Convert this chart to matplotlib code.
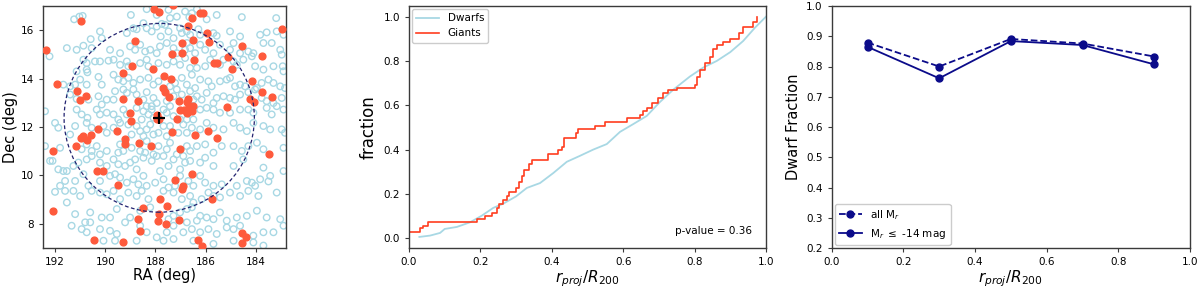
"""
    Virgo dwarfs vs giants: sky map, radial CDF and dwarf fraction
"""
import numpy as np
import matplotlib
matplotlib.use("Agg")
import matplotlib.pyplot as plt
from matplotlib.patches import Ellipse

DWARF_COLOR = "#a8d8e4"
GIANT_COLOR = "#fe5a3c"
LINE_RED = "#ff3d1f"
NAVY = "#0b0b8a"

### Data

# cluster centre and R200 circle (deg)
center_ra, center_dec = 187.85, 12.38
r200_ra, r200_dec = 3.79, 3.90

# dwarf positions (RA, Dec)
dwarf_pos = [
    (191.24, 16.45), (191.03, 16.56), (190.90, 16.59), (188.98, 16.63), (188.35, 16.87),
    (187.95, 16.63), (187.48, 16.84), (187.42, 16.50), (187.15, 16.56), (186.82, 16.77),
    (186.65, 16.54), (186.55, 16.70), (186.35, 16.87), (185.56, 16.63), (184.56, 16.54),
    (183.19, 16.50), (187.75, 16.26), (185.96, 16.45),
    (190.21, 15.95), (190.14, 15.67), (189.14, 15.88), (188.88, 16.08), (188.75, 16.04),
    (188.48, 16.29), (188.35, 16.08), (188.15, 15.95), (187.95, 16.15), (187.62, 16.22),
    (187.48, 15.95), (187.02, 16.08), (186.95, 15.88), (186.75, 15.95), (186.62, 15.81),
    (186.29, 16.04), (186.22, 15.81), (185.69, 15.88), (185.56, 15.77), (185.03, 15.95),
    (184.63, 15.74), (183.83, 15.81), (183.57, 15.91), (183.17, 15.95), (182.90, 15.81),
    (190.58, 15.63), (187.28, 15.67), (187.79, 15.74),
    (192.22, 14.92), (191.53, 15.26), (191.14, 15.19), (190.87, 15.36), (190.54, 15.26),
    (189.81, 15.19), (189.41, 15.05), (189.01, 15.33), (188.81, 15.19), (188.61, 15.40),
    (188.41, 15.12), (188.21, 15.19), (187.95, 15.05), (187.82, 15.33), (187.55, 15.47),
    (187.28, 15.26), (187.15, 15.05), (186.82, 15.19), (186.62, 15.26), (186.42, 15.05),
    (186.22, 15.40), (186.02, 15.19), (185.69, 15.05), (185.43, 15.40), (185.03, 15.19),
    (184.89, 15.47), (184.63, 15.05), (184.30, 15.12), (184.10, 15.05), (183.70, 15.47),
    (183.37, 15.47), (183.03, 15.19), (182.97, 14.99), (186.75, 15.47),
    (190.87, 14.78), (190.74, 14.64), (190.41, 14.71), (190.21, 14.71), (189.87, 14.74),
    (189.67, 14.78), (189.41, 14.57), (189.14, 14.71), (189.08, 14.51), (188.61, 14.64),
    (188.35, 14.78), (188.28, 14.51), (187.88, 14.64), (187.55, 14.57), (187.28, 14.71),
    (187.02, 14.57), (186.82, 14.85), (186.62, 14.44), (186.35, 14.44), (186.02, 14.51),
    (185.82, 14.78), (185.43, 14.57), (185.29, 14.78), (184.89, 14.71), (184.76, 14.57),
    (184.50, 14.78), (184.16, 14.92), (184.03, 14.51), (183.70, 14.37), (183.30, 14.51),
    (182.93, 14.51), (182.90, 14.30), (190.74, 14.37), (191.14, 14.30),
    (191.40, 13.68), (191.20, 13.75), (191.00, 13.96), (190.74, 13.75), (190.71, 14.26),
    (190.27, 14.07), (190.14, 13.75), (189.67, 14.16), (189.48, 13.96), (189.28, 13.89),
    (189.08, 14.03), (188.88, 13.82), (188.61, 13.96), (188.28, 14.03), (188.08, 13.75),
    (187.88, 13.89), (187.42, 13.68), (187.22, 13.82), (186.95, 14.03), (186.75, 13.75),
    (186.55, 14.16), (186.42, 13.61), (186.22, 13.96), (185.89, 13.89), (185.76, 13.68),
    (185.43, 13.89), (185.16, 13.96), (185.03, 14.03), (184.83, 13.68), (184.63, 13.75),
    (184.43, 13.68), (183.96, 13.61), (183.77, 13.82), (183.50, 13.96), (183.30, 13.82),
    (183.03, 13.68), (182.84, 13.61), (191.67, 13.75),
    (191.40, 13.34), (191.14, 13.16), (190.67, 13.13), (190.27, 13.27), (190.14, 12.93),
    (189.94, 13.13), (189.67, 13.13), (189.61, 13.48), (189.28, 13.55), (189.14, 13.41),
    (188.88, 13.55), (188.75, 13.34), (188.48, 13.13), (188.35, 13.44), (188.08, 13.20),
    (187.95, 12.99), (187.55, 13.07), (187.28, 13.27), (187.15, 13.55), (186.95, 13.34),
    (186.62, 13.48), (186.35, 13.27), (186.16, 13.13), (185.96, 13.41), (185.69, 12.99),
    (185.56, 13.20), (185.29, 13.27), (185.03, 13.20), (184.83, 13.13), (184.63, 13.34),
    (184.30, 13.44), (184.03, 13.55), (183.77, 13.20), (183.57, 13.07), (183.30, 12.99),
    (182.97, 13.20), (186.49, 13.13), (188.15, 12.86),
    (192.40, 12.65), (191.14, 12.72), (190.94, 12.52), (190.71, 12.38), (190.34, 12.72),
    (190.21, 12.52), (189.94, 12.59), (189.67, 12.52), (189.48, 12.31), (189.28, 12.72),
    (189.14, 12.52), (188.75, 12.79), (188.48, 12.65), (188.35, 12.86), (188.15, 12.72),
    (188.08, 12.38), (187.68, 12.72), (187.55, 12.59), (187.42, 12.86), (187.28, 12.45),
    (187.02, 12.31), (186.75, 12.31), (186.22, 12.72), (185.96, 12.79), (185.69, 12.72),
    (185.43, 12.59), (185.03, 12.59), (184.63, 12.72), (184.30, 12.72), (184.10, 12.59),
    (183.57, 12.79), (183.37, 12.52), (183.17, 12.86), (182.90, 12.72), (186.49, 12.31),
    (188.55, 12.31), (188.28, 12.52),
    (192.00, 12.17), (191.87, 11.97), (191.20, 12.04), (190.74, 12.17), (190.54, 11.97),
    (190.07, 12.04), (189.94, 11.76), (189.67, 11.97), (189.41, 12.17), (189.08, 12.10),
    (188.75, 12.04), (188.61, 11.83), (188.35, 11.90), (188.21, 12.10), (188.08, 11.69),
    (187.88, 11.76), (187.68, 12.04), (187.55, 11.62), (187.42, 12.04), (186.89, 12.10),
    (186.75, 11.76), (186.55, 11.97), (186.22, 11.90), (185.96, 12.17), (185.69, 11.97),
    (185.29, 11.90), (184.89, 12.17), (184.63, 11.97), (184.36, 11.83), (184.10, 12.17),
    (183.70, 12.04), (183.43, 11.90), (182.97, 11.90), (182.84, 11.76), (187.09, 11.76),
    (188.48, 11.62), (188.95, 11.69), (191.40, 11.69),
    (192.40, 11.21), (191.80, 11.14), (190.94, 11.08), (190.74, 11.28), (190.54, 11.01),
    (190.34, 11.21), (190.21, 10.87), (189.94, 11.01), (189.48, 10.94), (189.28, 11.01),
    (188.95, 11.14), (188.61, 11.01), (188.41, 10.94), (188.08, 10.87), (187.88, 11.21),
    (187.68, 10.80), (187.55, 11.08), (187.42, 11.35), (187.15, 10.87), (186.75, 11.21),
    (186.62, 11.01), (186.35, 11.21), (186.02, 11.28), (185.69, 10.94), (185.36, 11.21),
    (184.89, 11.21), (184.56, 11.01), (184.30, 11.21), (183.96, 11.35), (183.70, 11.08),
    (182.90, 11.14), (189.41, 11.28), (188.35, 11.42), (186.89, 10.80),
    (192.20, 10.60), (192.10, 10.60), (191.87, 10.25), (191.67, 10.18), (191.53, 10.18),
    (191.27, 10.39), (191.07, 10.53), (190.74, 10.66), (190.54, 10.80), (190.21, 10.53),
    (189.94, 10.39), (189.67, 10.66), (189.48, 10.46), (189.21, 10.39), (189.01, 10.53),
    (188.75, 10.25), (188.48, 10.73), (188.15, 10.60), (187.95, 10.80), (187.48, 10.39),
    (187.28, 10.66), (187.02, 10.25), (186.82, 10.53), (186.62, 10.60), (186.22, 10.53),
    (186.02, 10.73), (185.69, 10.39), (184.89, 10.39), (184.50, 10.66), (183.70, 10.32),
    (182.90, 10.18), (187.82, 10.18), (188.81, 10.66),
    (191.80, 9.57), (191.60, 9.77), (191.20, 9.77), (190.87, 10.05), (190.67, 9.57),
    (190.21, 9.77), (189.81, 9.98), (189.61, 10.05), (189.41, 9.91), (189.14, 9.70),
    (188.88, 9.84), (188.68, 9.63), (188.48, 9.98), (188.35, 9.57), (188.01, 9.70),
    (187.68, 9.84), (187.48, 9.50), (187.22, 9.57), (187.02, 9.98), (186.69, 9.77),
    (186.49, 9.57), (186.22, 9.98), (186.02, 9.70), (185.69, 9.57), (185.36, 9.63),
    (184.76, 9.57), (184.36, 9.77), (184.16, 9.70), (184.03, 9.57), (183.83, 9.84),
    (183.43, 9.98), (183.50, 9.75),
    (192.00, 9.32), (191.60, 9.36), (191.27, 9.36), (191.00, 9.15), (190.54, 9.36),
    (190.21, 9.29), (189.94, 9.22), (189.67, 9.36), (189.41, 9.02), (189.08, 9.29),
    (188.75, 9.15), (188.55, 9.36), (188.28, 9.02), (187.68, 9.36), (187.28, 9.29),
    (186.95, 9.02), (186.62, 9.15), (186.49, 8.88), (186.16, 9.02), (185.89, 9.29),
    (185.69, 9.15), (185.43, 9.09), (185.03, 9.29), (184.63, 9.15), (184.30, 9.36),
    (183.90, 9.15), (183.17, 9.29),
    (191.53, 8.88), (191.20, 8.40), (190.60, 8.47), (190.14, 8.26), (189.81, 8.26),
    (189.54, 8.61), (189.01, 8.26), (188.61, 8.54), (188.21, 8.68), (187.28, 8.33),
    (187.02, 8.47), (186.75, 8.61), (186.55, 8.68), (186.22, 8.33), (185.96, 8.26),
    (185.69, 8.19), (185.43, 8.47), (185.16, 8.13), (184.76, 8.26), (184.36, 8.33),
    (183.96, 8.54), (183.57, 8.26), (183.03, 8.19), (186.35, 8.13), (187.48, 8.19),
    (191.34, 7.92), (190.94, 7.78), (190.80, 8.06), (190.60, 8.06), (190.74, 7.65),
    (190.21, 7.78), (189.81, 7.71), (189.54, 7.58), (189.21, 8.06), (188.61, 7.92),
    (188.35, 7.65), (187.95, 7.44), (187.55, 7.65), (187.28, 7.92), (186.89, 7.65),
    (186.55, 7.78), (186.22, 7.65), (185.89, 7.78), (185.56, 7.58), (185.16, 7.85),
    (184.89, 7.78), (184.63, 7.92), (184.10, 7.51), (183.70, 7.65), (183.30, 7.65),
    (182.90, 7.92), (186.75, 8.06),
    (190.07, 7.30), (189.61, 7.30), (188.75, 7.30), (187.68, 7.30), (187.28, 7.37),
    (186.49, 7.30), (185.69, 7.17), (184.89, 7.30), (184.10, 7.23), (183.70, 7.10),
]

# giant positions (RA, Dec)
giant_pos = [
    (192.37, 15.19), (190.97, 16.40), (191.94, 13.78), (191.14, 13.50), (191.01, 13.13),
    (190.77, 13.27), (192.07, 11.00), (191.16, 11.21), (190.97, 11.55), (190.90, 11.62),
    (190.74, 11.46), (190.57, 11.65), (190.30, 11.92), (190.34, 10.17), (190.08, 10.17),
    (192.09, 8.51), (190.43, 7.34), (189.48, 9.59), (189.52, 11.83), (189.31, 14.24),
    (189.31, 13.17), (189.21, 11.49), (189.21, 11.28), (189.01, 12.58), (188.99, 12.24),
    (188.95, 14.50), (188.81, 15.56), (188.68, 13.09), (188.64, 11.32), (188.71, 8.19),
    (188.62, 7.71), (189.31, 7.26), (188.48, 8.67), (188.18, 11.20), (188.11, 14.41),
    (188.06, 16.86), (187.84, 16.75), (187.92, 12.51), (187.84, 12.34), (187.92, 12.31),
    (187.88, 8.10), (187.84, 8.40), (187.82, 9.02), (187.58, 8.01), (187.53, 8.74),
    (187.66, 14.09), (187.69, 13.61), (187.62, 13.43), (187.45, 13.23), (187.40, 13.98),
    (187.36, 15.01), (187.34, 11.79), (187.22, 9.81), (187.15, 12.34), (187.29, 17.05),
    (187.06, 13.09), (187.02, 11.10), (186.96, 9.43), (186.92, 9.57), (187.05, 8.17),
    (186.96, 15.46), (186.94, 15.05), (187.02, 12.72), (186.85, 12.72), (186.76, 13.02),
    (186.76, 12.58), (186.65, 12.86), (186.56, 12.68), (186.49, 12.88), (186.69, 13.14),
    (186.69, 16.18), (186.53, 16.49), (186.52, 15.60), (186.47, 14.78), (186.43, 11.69),
    (186.53, 10.05), (186.22, 16.70), (186.12, 16.70), (186.32, 7.34), (186.14, 7.10),
    (185.96, 15.88), (185.86, 15.53), (185.90, 11.83), (185.75, 9.04), (185.67, 14.64),
    (185.56, 14.64), (185.53, 11.53), (185.16, 12.82), (185.12, 14.89), (184.94, 14.39),
    (184.54, 15.33), (184.54, 7.64), (184.41, 7.47), (184.54, 7.19), (184.17, 13.91),
    (184.24, 13.16), (184.08, 13.04), (183.74, 14.94), (183.74, 13.43), (183.37, 13.23),
    (183.46, 10.87), (182.97, 16.04),
]

# cumulative radial distributions (r_proj / R200, fraction)
dwarf_r = [0.029, 0.059, 0.087, 0.10, 0.134, 0.171, 0.204, 0.236, 0.264, 0.30,
           0.33, 0.367, 0.404, 0.442, 0.479, 0.516, 0.554, 0.591, 0.628, 0.666,
           0.703, 0.74, 0.787, 0.824, 0.862, 0.90, 0.936, 0.969, 1.0]
dwarf_cdf = [0.006, 0.012, 0.024, 0.042, 0.051, 0.072, 0.102, 0.137, 0.156, 0.189,
             0.227, 0.249, 0.294, 0.345, 0.372, 0.400, 0.425, 0.480, 0.515, 0.552,
             0.615, 0.670, 0.730, 0.770, 0.800, 0.840, 0.890, 0.950, 1.0]

giant_r = [0.0, 0.031, 0.038, 0.054, 0.19, 0.213, 0.232, 0.246, 0.252, 0.264,
           0.274, 0.281, 0.30, 0.309, 0.316, 0.322, 0.335, 0.344, 0.39, 0.418,
           0.428, 0.434, 0.468, 0.474, 0.521, 0.549, 0.61, 0.647, 0.656, 0.666,
           0.68, 0.698, 0.712, 0.726, 0.75, 0.80, 0.806, 0.815, 0.829, 0.843,
           0.852, 0.862, 0.88, 0.90, 0.923, 0.936, 0.964, 0.974]
giant_cdf = [0.029, 0.047, 0.057, 0.072, 0.086, 0.099, 0.114, 0.137, 0.156, 0.174,
             0.189, 0.21, 0.227, 0.252, 0.279, 0.309, 0.336, 0.354, 0.378, 0.396,
             0.414, 0.452, 0.474, 0.492, 0.505, 0.523, 0.542, 0.557, 0.572, 0.587,
             0.61, 0.632, 0.655, 0.667, 0.677, 0.692, 0.727, 0.76, 0.79, 0.82,
             0.853, 0.872, 0.884, 0.90, 0.925, 0.955, 0.977, 1.0]
p_value = 0.36

# dwarf fraction in radial bins
bin_centers = [0.1, 0.3, 0.5, 0.7, 0.9]
frac_all = [0.879, 0.800, 0.891, 0.876, 0.833]
frac_bright = [0.865, 0.761, 0.884, 0.871, 0.807]

### Panels

def style_axes(ax):
    for s in ax.spines.values():
        s.set_color("#3a3a3a")
        s.set_linewidth(1.0)
    ax.tick_params(labelsize=7.5, length=3, color="#3a3a3a")


def draw_map(ax):
    dw = np.array(dwarf_pos)
    gi = np.array(giant_pos)
    ax.scatter(dw[:, 0], dw[:, 1], s=22, facecolors="none",
               edgecolors=DWARF_COLOR, linewidths=1.0)
    ax.scatter(gi[:, 0], gi[:, 1], s=24, color=GIANT_COLOR, zorder=3)
    ax.add_patch(Ellipse((center_ra, center_dec), 2 * r200_ra, 2 * r200_dec,
                         fill=False, ls=(0, (3, 2)), color="#232370", lw=0.9, zorder=4))
    ax.plot(center_ra, center_dec, "+", color="black", ms=9, mew=1.6, zorder=5)
    ax.set_xlim(192.48, 182.8)
    ax.set_ylim(7.0, 17.0)
    ax.set_xticks([192, 190, 188, 186, 184])
    ax.set_yticks([8, 10, 12, 14, 16])
    ax.set_xlabel("RA (deg)", fontsize=10.5, labelpad=1)
    ax.set_ylabel("Dec (deg)", fontsize=10.5, labelpad=2)
    style_axes(ax)


def draw_cdf(ax):
    ax.plot(dwarf_r, dwarf_cdf, color=DWARF_COLOR, lw=1.3, label="Dwarfs")
    ax.step(giant_r, giant_cdf, where="post", color=LINE_RED, lw=1.2, label="Giants")
    ax.set_xlim(0, 1)
    ax.set_ylim(-0.044, 1.048)
    ax.set_xlabel(r"$r_{proj}/R_{200}$", fontsize=11, labelpad=1)
    ax.set_ylabel("fraction", fontsize=12, labelpad=4)
    ax.text(0.96, 0.05, f"p-value = {p_value}", transform=ax.transAxes,
            ha="right", va="bottom", fontsize=7.5)
    ax.legend(loc="upper left", fontsize=7.5, handlelength=2.2,
              borderaxespad=0.3, framealpha=1, edgecolor="#cccccc")
    style_axes(ax)


def draw_fraction(ax):
    ax.plot(bin_centers, frac_all, "--o", color=NAVY, ms=5, lw=1.3, label=r"all M$_r$")
    ax.plot(bin_centers, frac_bright, "-o", color=NAVY, ms=5, lw=1.3,
            label=r"M$_r$ $\leq$ -14 mag")
    ax.set_xlim(0, 1)
    ax.set_ylim(0.2, 1.0)
    ax.set_xticks([0.0, 0.2, 0.4, 0.6, 0.8, 1.0])
    ax.set_yticks([0.2, 0.3, 0.4, 0.5, 0.6, 0.7, 0.8, 0.9, 1.0])
    ax.set_xlabel(r"$r_{proj}/R_{200}$", fontsize=11, labelpad=1)
    ax.set_ylabel("Dwarf Fraction", fontsize=10.5, labelpad=4)
    ax.legend(loc="lower left", fontsize=7.5, handlelength=2.2,
              borderaxespad=0.3, framealpha=1, edgecolor="#cccccc")
    style_axes(ax)

### Main

def main():
    fig = plt.figure(figsize=(12, 2.89), dpi=100)
    bottom = 41 / 289
    height = 242 / 289
    ax_map = fig.add_axes([43 / 1200, bottom, 243 / 1200, height])
    ax_cdf = fig.add_axes([409 / 1200, bottom, 357 / 1200, height])
    ax_frac = fig.add_axes([831.7 / 1200, bottom, 358.3 / 1200, height])

    draw_map(ax_map)
    draw_cdf(ax_cdf)
    draw_fraction(ax_frac)

    fig.savefig("out.png", dpi=100)


if __name__ == "__main__":
    main()
